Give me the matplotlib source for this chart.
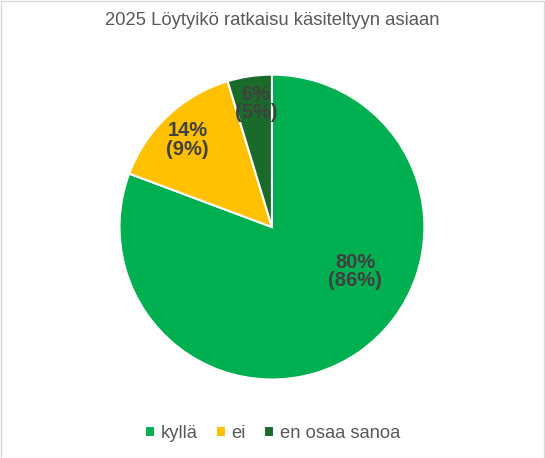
import matplotlib
matplotlib.use("Agg")
import matplotlib.pyplot as plt
from matplotlib.patches import Rectangle

plt.rcParams["font.family"] = ["Liberation Sans", "DejaVu Sans"]

categories = ["kyllä", "ei", "en osaa sanoa"]
shares = [80.7, 14.6, 4.7]
label_now = ["80%", "14%", "6%"]
label_prev = ["86%", "9%", "5%"]
colors = ["#00B050", "#FFC000", "#1A6B2A"]
label_pos = [(0.545, -0.292), (-0.552, 0.571), (-0.104, 0.81)]

fig = plt.figure(figsize=(5.45, 4.58), dpi=100)
ax = fig.add_axes([0.2165, 0.168, 0.565, 0.6725])
wedges, _ = ax.pie(shares, colors=colors, startangle=90, counterclock=False,
                   radius=1.0, wedgeprops=dict(edgecolor="white", linewidth=1.5))
ax.set_xlim(-1.01, 1.01)
ax.set_ylim(-1.01, 1.01)
ax.set_aspect("equal")
ax.axis("off")

for (x, y), a, b in zip(label_pos, label_now, label_prev):
    ax.text(x, y, f"{a}\n({b})", ha="center", va="center", fontsize=14.5,
            fontweight="bold", color="#404040", linespacing=0.95)

fig.text(0.5, 0.956, "2025 Löytyikö ratkaisu käsiteltyyn asiaan",
         ha="center", va="center", fontsize=13.3, color="#595959")

leg = fig.legend(wedges, categories, loc="center", bbox_to_anchor=(0.5, 0.054),
                 ncol=3, frameon=False, fontsize=13.2, handlelength=0.55,
                 handleheight=0.55, handletextpad=0.3, columnspacing=1.0)
for t in leg.get_texts():
    t.set_color("#595959")

fig.patches.append(Rectangle((0.001, 0.001), 0.997, 0.997, transform=fig.transFigure,
                             fill=False, edgecolor="#D9D9D9", linewidth=1))

fig.savefig("out.png", dpi=100)
